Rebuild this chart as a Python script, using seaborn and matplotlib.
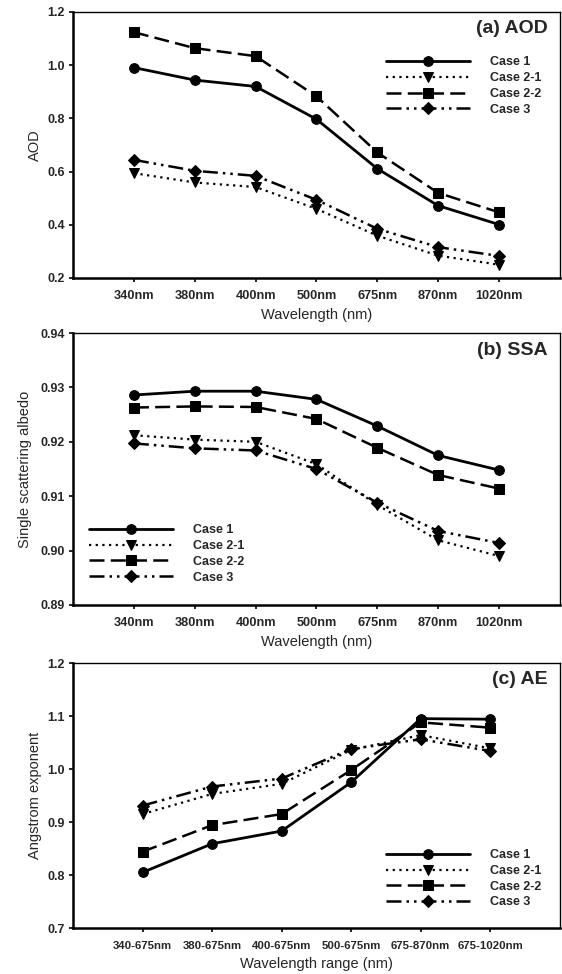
import matplotlib
matplotlib.use("Agg")
import matplotlib.pyplot as plt
import seaborn as sns
import pandas as pd

sns.set_style("ticks")
plt.rcParams['font.family'] = ['Liberation Sans', 'DejaVu Sans']

wl = ["340nm", "380nm", "400nm", "500nm", "675nm", "870nm", "1020nm"]
ae_ranges = ["340-675nm", "380-675nm", "400-675nm", "500-675nm", "675-870nm", "675-1020nm"]
cases = ["Case 1", "Case 2-1", "Case 2-2", "Case 3"]

aod_case1 = [0.991, 0.944, 0.920, 0.797, 0.611, 0.472, 0.401]
aod_case21 = [0.594, 0.559, 0.542, 0.460, 0.359, 0.284, 0.250]
aod_case22 = [1.124, 1.064, 1.034, 0.883, 0.672, 0.520, 0.447]
aod_case3 = [0.644, 0.603, 0.584, 0.494, 0.385, 0.316, 0.283]

ssa_case1 = [0.9286, 0.9293, 0.9293, 0.9278, 0.9229, 0.9175, 0.9148]
ssa_case21 = [0.9212, 0.9204, 0.9200, 0.9159, 0.9084, 0.9019, 0.8990]
ssa_case22 = [0.9263, 0.9265, 0.9264, 0.9242, 0.9189, 0.9139, 0.9114]
ssa_case3 = [0.9197, 0.9188, 0.9184, 0.9150, 0.9088, 0.9036, 0.9014]

ae_case1 = [0.805, 0.859, 0.883, 0.975, 1.095, 1.094]
ae_case21 = [0.915, 0.953, 0.972, 1.036, 1.064, 1.039]
ae_case22 = [0.844, 0.894, 0.915, 0.998, 1.088, 1.078]
ae_case3 = [0.931, 0.967, 0.982, 1.038, 1.056, 1.034]

styles = {
    "Case 1": dict(linestyle="-", marker="o", lw=2.0),
    "Case 2-1": dict(linestyle=(0, (1, 2)), marker="v", lw=1.6),
    "Case 2-2": dict(linestyle=(0, (6, 2.5)), marker="s", lw=1.8),
    "Case 3": dict(linestyle=(0, (6, 2, 1, 2, 1, 2)), marker="D", lw=1.8),
}

fig = plt.figure(figsize=(5.62, 9.74), dpi=100)
W = 0.866
axa = fig.add_axes([0.130, 0.7146, W, 0.2731])
axb = fig.add_axes([0.130, 0.3789, W, 0.2792])
axc = fig.add_axes([0.130, 0.0472, W, 0.2721])

panels = [
    (axa, wl, [aod_case1, aod_case21, aod_case22, aod_case3], (0.2, 1.2), [0.2, 0.4, 0.6, 0.8, 1.0, 1.2], "%.1f",
     "AOD", "Wavelength (nm)", "(a) AOD", dict(loc="upper left", bbox_to_anchor=(0.62, 0.875))),
    (axb, wl, [ssa_case1, ssa_case21, ssa_case22, ssa_case3], (0.89, 0.94), [0.89, 0.90, 0.91, 0.92, 0.93, 0.94], "%.2f",
     "Single scattering albedo", "Wavelength (nm)", "(b) SSA", dict(loc="upper left", bbox_to_anchor=(0.01, 0.338))),
    (axc, ae_ranges, [ae_case1, ae_case21, ae_case22, ae_case3], (0.7, 1.2), [0.7, 0.8, 0.9, 1.0, 1.1, 1.2], "%.1f",
     "Angstrom exponent", "Wavelength range (nm)", "(c) AE", dict(loc="upper left", bbox_to_anchor=(0.62, 0.34))),
]

for ax, cats, series, ylim, yticks, fmt, ylab, xlab, title, legkw in panels:
    for name, vals in zip(cases, series):
        df = pd.DataFrame({"x": list(range(len(cats))), "y": vals})
        st = styles[name]
        sns.lineplot(data=df, x="x", y="y", ax=ax, color="black", linestyle=st["linestyle"],
                     marker=st["marker"], markersize=7 if st["marker"] != "D" else 6.5,
                     markeredgecolor="black", markerfacecolor="black", linewidth=st["lw"], label=name)
    n = len(cats)
    ax.set_xlim(-1, n)
    ax.set_xticks(range(n))
    ax.set_xticklabels(cats, fontweight="bold", fontsize=9.2 if n == 7 else 8.2)
    ax.set_ylim(*ylim)
    ax.set_yticks(yticks)
    ax.set_yticklabels([fmt % v for v in yticks], fontweight="bold", fontsize=9)
    ax.set_ylabel(ylab, fontsize=10.5)
    ax.set_xlabel(xlab, fontsize=10.5, labelpad=4 if n == 7 else 5)
    ax.tick_params(axis="x", direction="out", length=3, width=1.2, pad=6, color="black")
    ax.tick_params(axis="y", direction="out", length=3, width=1.2, pad=3, color="black")
    for s in ["left", "bottom"]:
        ax.spines[s].set_linewidth(1.8)
    for s in ["top", "right"]:
        ax.spines[s].set_linewidth(1.0)
    for s in ax.spines.values():
        s.set_color("black")
    ax.text(0.975, 0.968, title, transform=ax.transAxes, ha="right", va="top",
            fontsize=14, fontweight="bold")
    leg = ax.legend(frameon=False, handlelength=6.7, handletextpad=1.6, labelspacing=0.3,
                    prop=dict(weight="bold", size=9), **legkw)

axb.yaxis.labelpad = 6
fig.savefig("out.png", dpi=100)
